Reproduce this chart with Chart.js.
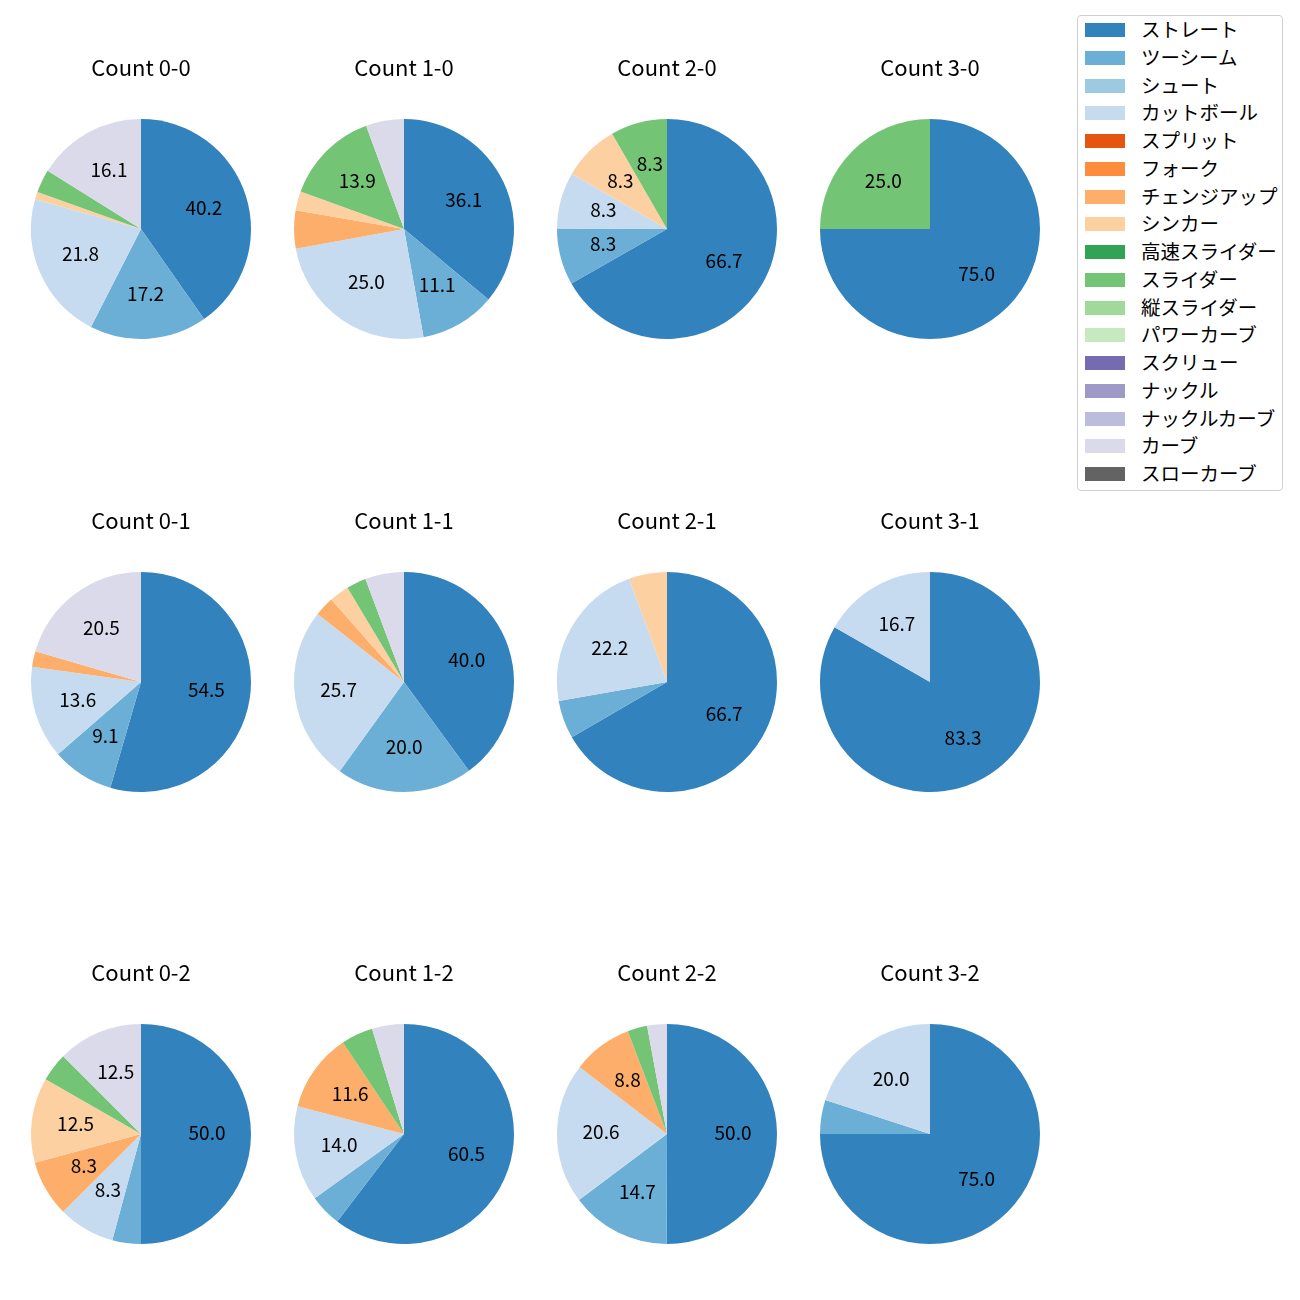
<!DOCTYPE html>
<html>
<head>
<meta charset="utf-8">
<script src="https://cdn.jsdelivr.net/npm/chart.js@4.4.0/dist/chart.umd.min.js"></script>
<style>
  body { margin: 0; background: #fff; }
  #wrap { position: relative; width: 1300px; height: 1300px; font-family: "Noto Sans CJK JP", sans-serif; }
  #wrap canvas { position: absolute; }
  #legend {
    position: absolute; left: 1077px; top: 15px; width: 204px; height: 474px;
    border: 1px solid #d0d0d0; border-radius: 4px; box-sizing: content-box;
  }
  .item { position: absolute; left: 0; height: 20px; font-size: 19.5px; line-height: 20px; color: #000; white-space: nowrap; }
  .sw { position: absolute; left: 7px; top: 3px; width: 40px; height: 14px; }
  .lbl { position: absolute; left: 63px; top: -1px; }
</style>
</head>
<body>
<div id="wrap">
  <div id="legend"></div>
</div>
<script>
// ======================= DATA =======================
const pitchTypes = ["ストレート", "ツーシーム", "シュート", "カットボール", "スプリット", "フォーク",
  "チェンジアップ", "シンカー", "高速スライダー", "スライダー", "縦スライダー", "パワーカーブ",
  "スクリュー", "ナックル", "ナックルカーブ", "カーブ", "スローカーブ"];
const pitchColors = ["#3182bd", "#6baed6", "#9ecae1", "#c6dbef", "#e6550d", "#fd8d3c",
  "#fdae6b", "#fdd0a2", "#31a354", "#74c476", "#a1d99b", "#c7e9c0",
  "#756bb1", "#9e9ac8", "#bcbddc", "#dadaeb", "#636363"];

const countNames = ["0-0", "1-0", "2-0", "3-0", "0-1", "1-1", "2-1", "3-1", "0-2", "1-2", "2-2", "3-2"];

// percentages per pitch type (same order as pitchTypes)
const count00 = [40.2, 17.2, 0, 21.8, 0, 0, 0, 1.1, 0, 3.4, 0, 0, 0, 0, 0, 16.1, 0];
const count10 = [36.1, 11.1, 0, 25.0, 0, 0, 5.6, 2.8, 0, 13.9, 0, 0, 0, 0, 0, 5.6, 0];
const count20 = [66.7, 8.3, 0, 8.3, 0, 0, 0, 8.3, 0, 8.3, 0, 0, 0, 0, 0, 0, 0];
const count30 = [75.0, 0, 0, 0, 0, 0, 0, 0, 0, 25.0, 0, 0, 0, 0, 0, 0, 0];
const count01 = [54.5, 9.1, 0, 13.6, 0, 0, 2.3, 0, 0, 0, 0, 0, 0, 0, 0, 20.5, 0];
const count11 = [40.0, 20.0, 0, 25.7, 0, 0, 2.9, 2.9, 0, 2.9, 0, 0, 0, 0, 0, 5.7, 0];
const count21 = [66.7, 5.6, 0, 22.2, 0, 0, 0, 5.6, 0, 0, 0, 0, 0, 0, 0, 0, 0];
const count31 = [83.3, 0, 0, 16.7, 0, 0, 0, 0, 0, 0, 0, 0, 0, 0, 0, 0, 0];
const count02 = [50.0, 4.2, 0, 8.3, 0, 0, 8.3, 12.5, 0, 4.2, 0, 0, 0, 0, 0, 12.5, 0];
const count12 = [60.5, 4.7, 0, 14.0, 0, 0, 11.6, 0, 0, 4.7, 0, 0, 0, 0, 0, 4.7, 0];
const count22 = [50.0, 14.7, 0, 20.6, 0, 0, 8.8, 0, 0, 2.9, 0, 0, 0, 0, 0, 2.9, 0];
const count32 = [75.0, 5.0, 0, 20.0, 0, 0, 0, 0, 0, 0, 0, 0, 0, 0, 0, 0, 0];

const countValues = [count00, count10, count20, count30, count01, count11,
  count21, count31, count02, count12, count22, count32];

// ======================= LAYOUT =======================
const colX = [141, 404, 667, 930];
const rowY = [229, 682, 1134];
const FONT = '"Noto Sans CJK JP", sans-serif';

// % labels inside slices (matplotlib autopct style, pctdistance 0.6)
const pctLabels = {
  id: "pctLabels",
  afterDatasetsDraw(chart) {
    const ctx = chart.ctx;
    const meta = chart.getDatasetMeta(0);
    const values = chart.data.datasets[0].data;
    ctx.save();
    ctx.font = "19px " + FONT;
    ctx.fillStyle = "#000";
    ctx.textAlign = "center";
    ctx.textBaseline = "middle";
    meta.data.forEach((arc, i) => {
      if (values[i] < 7) return;
      const mid = (arc.startAngle + arc.endAngle) / 2;
      const r = arc.outerRadius * 0.6;
      ctx.fillText(values[i].toFixed(1), arc.x + Math.cos(mid) * r, arc.y + Math.sin(mid) * r - 1.5);
    });
    ctx.restore();
  }
};

const wrap = document.getElementById("wrap");

countNames.forEach((name, k) => {
  const cx = colX[k % 4];
  const cy = rowY[Math.floor(k / 4)];
  const canvas = document.createElement("canvas");
  canvas.width = 260;
  canvas.height = 300;
  canvas.style.left = (cx - 130) + "px";
  canvas.style.top = (cy - 180) + "px";
  wrap.appendChild(canvas);

  new Chart(canvas, {
    type: "pie",
    data: {
      labels: pitchTypes,
      datasets: [{
        data: countValues[k],
        backgroundColor: pitchColors,
        borderWidth: 0,
        hoverOffset: 0,
      }],
    },
    options: {
      responsive: false,
      animation: false,
      events: [],
      layout: { padding: { left: 20, right: 20, top: 0, bottom: 10 } },
      plugins: {
        legend: { display: false },
        tooltip: { enabled: false },
        title: {
          display: true,
          text: "Count " + name,
          color: "#000",
          font: { family: FONT, size: 22, weight: "normal", lineHeight: 1.2 },
          padding: { top: 5.8, bottom: 37.8 },
        },
      },
    },
    plugins: [pctLabels],
  });
});

// ======================= LEGEND =======================
const legend = document.getElementById("legend");
pitchTypes.forEach((p, i) => {
  const item = document.createElement("div");
  item.className = "item";
  item.style.top = (4 + i * 27.75) + "px";
  item.innerHTML = `<span class="sw" style="background:${pitchColors[i]}"></span><span class="lbl">${p}</span>`;
  legend.appendChild(item);
});
</script>
</body>
</html>
